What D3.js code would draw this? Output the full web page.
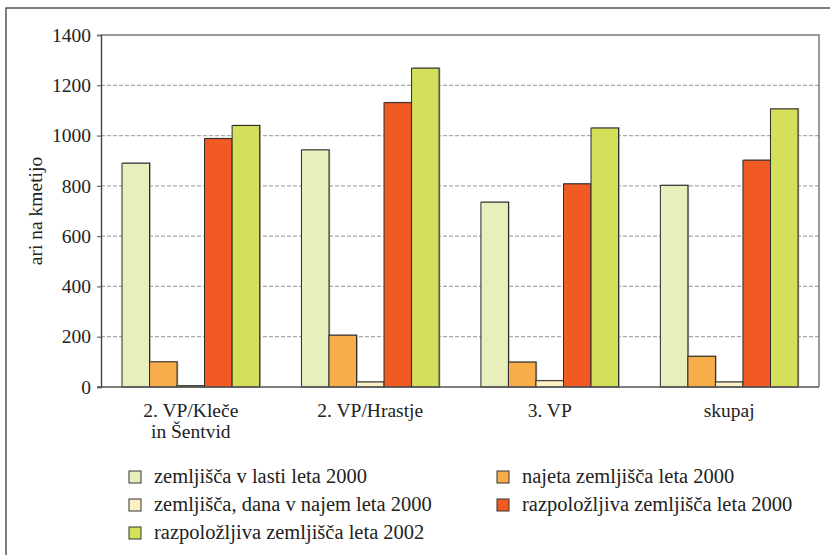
<!DOCTYPE html>
<html>
<head>
<meta charset="utf-8">
<script src="https://cdn.jsdelivr.net/npm/d3@7"></script>
<style>
  html, body { margin: 0; padding: 0; background: #fff; }
  svg { display: block; }
  text { font-family: "Liberation Serif", "DejaVu Serif", serif; fill: #222; }
</style>
</head>
<body>
<svg id="chart" width="830" height="555"></svg>
<script>
// Farm land per holding (ari na kmetijo) by area
const categories = ["2. VP/Kleče\nin Šentvid", "2. VP/Hrastje", "3. VP", "skupaj"];
const seriesNames = [
  "zemljišča v lasti leta 2000",
  "najeta zemljišča leta 2000",
  "zemljišča, dana v najem leta 2000",
  "razpoložljiva zemljišča leta 2000",
  "razpoložljiva zemljišča leta 2002"
];
const owned2000      = [890, 943, 735, 802];
const rented2000     = [100, 206, 99, 122];
const leasedOut2000  = [5, 20, 25, 20];
const available2000  = [988, 1131, 808, 902];
const available2002  = [1040, 1268, 1030, 1106];
const seriesValues = [owned2000, rented2000, leasedOut2000, available2000, available2002];
const seriesColors = ["#e7efbc", "#f9ad4a", "#fdf0c4", "#f15a22", "#d4e05a"];
const yTicks = [0, 200, 400, 600, 800, 1000, 1200, 1400];
const yTitle = "ari na kmetijo";

const svg = d3.select("#chart");

// outer frame (runs off the right and bottom edges)
svg.append("rect")
  .attr("x", 6).attr("y", 8).attr("width", 900).attr("height", 700)
  .attr("fill", "none").attr("stroke", "#3a3a3a").attr("stroke-width", 1.3);

const plot = { left: 101, right: 819, top: 35, bottom: 387 };

const y = d3.scaleLinear().domain([0, 1400]).range([plot.bottom, plot.top]);
const x0 = d3.scaleBand().domain(d3.range(categories.length))
  .range([plot.left, plot.right]).paddingInner(0.233).paddingOuter(0.117);
const x1 = d3.scaleBand().domain(d3.range(seriesValues.length))
  .range([0, x0.bandwidth()]).padding(0);

// dashed gridlines
svg.append("g")
  .selectAll("line")
  .data(yTicks.filter(t => t > 0 && t < 1400))
  .join("line")
  .attr("x1", plot.left).attr("x2", plot.right)
  .attr("y1", d => y(d)).attr("y2", d => y(d))
  .attr("stroke", "#a8a8a8").attr("stroke-width", 1.2)
  .attr("stroke-dasharray", "4,2");

// plot border: top and right
svg.append("path")
  .attr("d", `M${plot.left},${y(1400)}H${plot.right}V${plot.bottom}`)
  .attr("fill", "none").attr("stroke", "#7a7a7a").attr("stroke-width", 1.5);

// bars
const groups = svg.append("g")
  .selectAll("g")
  .data(categories.map((c, i) => i))
  .join("g")
  .attr("transform", i => `translate(${x0(i)},0)`);

const barData = i => seriesValues.map((vals, s) => ({ s, v: vals[i] }));

// soft shadow behind each bar
groups.selectAll("rect.shadow")
  .data(barData)
  .join("rect")
  .attr("class", "shadow")
  .attr("x", d => x1(d.s) + 1.2)
  .attr("y", d => y(d.v) - 0.8)
  .attr("width", x1.bandwidth())
  .attr("height", d => plot.bottom - y(d.v) + 0.8)
  .attr("fill", "#a0a0a0");

groups.selectAll("rect.bar")
  .data(barData)
  .join("rect")
  .attr("class", "bar")
  .attr("x", d => x1(d.s))
  .attr("y", d => y(d.v))
  .attr("width", x1.bandwidth())
  .attr("height", d => plot.bottom - y(d.v))
  .attr("fill", d => seriesColors[d.s])
  .attr("stroke", "#2a2a2a").attr("stroke-width", 1);

// y axis
const yAxis = svg.append("g")
  .attr("transform", `translate(${plot.left},0)`)
  .call(d3.axisLeft(y).tickValues(yTicks).tickSize(4).tickPadding(6).tickFormat(d3.format("d")));
yAxis.select(".domain").attr("stroke", "#444").attr("stroke-width", 1.4);
yAxis.selectAll(".tick line").attr("stroke", "#666").attr("stroke-width", 1.2);
yAxis.selectAll(".tick text")
  .attr("font-size", 19.5).attr("fill", "#222")
  .style("font-family", "'Liberation Serif', serif");

// x baseline
svg.append("line")
  .attr("x1", plot.left - 4).attr("x2", plot.right)
  .attr("y1", plot.bottom).attr("y2", plot.bottom)
  .attr("stroke", "#555").attr("stroke-width", 1.4);

// category labels
const catLabels = svg.append("g")
  .selectAll("text")
  .data(categories.map((c, i) => i))
  .join("text")
  .attr("text-anchor", "middle")
  .attr("font-size", 19.5)
  .attr("x", i => x0(i) + x0.bandwidth() / 2)
  .attr("y", 417);
catLabels.selectAll("tspan")
  .data(i => categories[i].split("\n").map(t => ({ t, x: x0(i) + x0.bandwidth() / 2 })))
  .join("tspan")
  .attr("x", d => d.x)
  .attr("dy", (d, k) => k === 0 ? 0 : 21)
  .text(d => d.t);

// y title
svg.append("text")
  .attr("transform", `translate(42,${(plot.top + plot.bottom) / 2}) rotate(-90)`)
  .attr("text-anchor", "middle")
  .attr("font-size", 19.5)
  .text(yTitle);

// legend: two columns
const legendPos = [
  { x: 129, row: 0 }, { x: 497, row: 0 },
  { x: 129, row: 1 }, { x: 497, row: 1 },
  { x: 129, row: 2 }
];
const legend = svg.append("g")
  .selectAll("g")
  .data(seriesNames.map((n, i) => i))
  .join("g")
  .attr("transform", i => `translate(${legendPos[i].x},${477 + legendPos[i].row * 28})`);
legend.append("rect")
  .attr("x", 0).attr("y", -6).attr("width", 12).attr("height", 12)
  .attr("fill", i => seriesColors[i])
  .attr("stroke", "#333").attr("stroke-width", 1);
legend.append("text")
  .attr("x", 25).attr("y", 6)
  .attr("font-size", 20.5)
  .text(i => seriesNames[i]);
</script>
</body>
</html>
